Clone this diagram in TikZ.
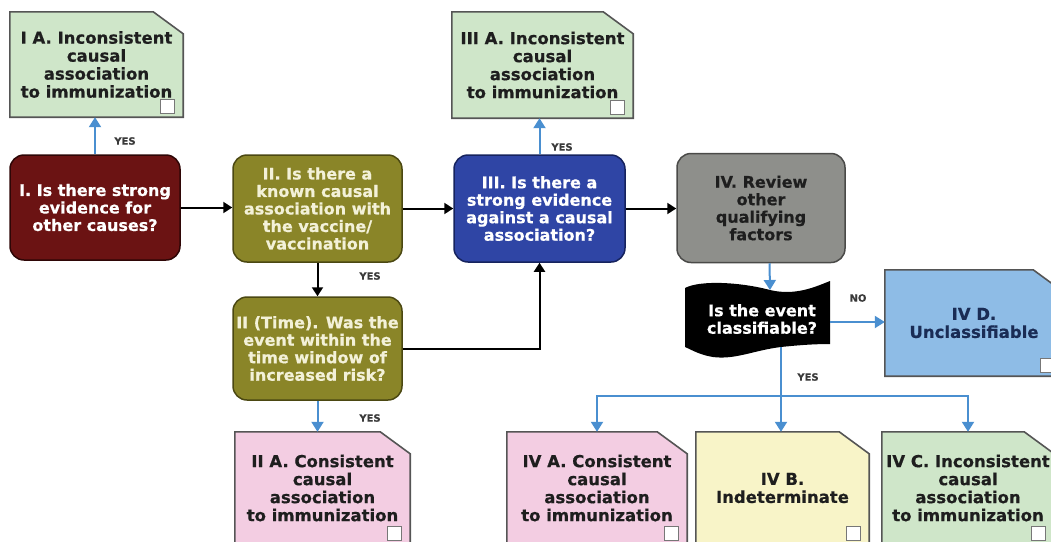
\documentclass[tikz,border=0pt]{standalone}
\usepackage{fontspec}
\setmainfont[BoldFeatures={FakeBold=0.6}]{DejaVu Sans}
\usetikzlibrary{arrows.meta,calc,backgrounds}

\definecolor{qred}{HTML}{6B1313}
\definecolor{qredline}{HTML}{2E0606}
\definecolor{qolive}{HTML}{8A8528}
\definecolor{qoliveline}{HTML}{4B4812}
\definecolor{qolivetext}{HTML}{F3F1D8}
\definecolor{qblue}{HTML}{2F45A5}
\definecolor{qblueline}{HTML}{16235E}
\definecolor{qgrey}{HTML}{8E8F8B}
\definecolor{qgreyline}{HTML}{4A4A48}
\definecolor{outgreen}{HTML}{CFE6C9}
\definecolor{outpink}{HTML}{F3CDE2}
\definecolor{outyellow}{HTML}{F8F4C8}
\definecolor{outblue}{HTML}{8EBCE6}
\definecolor{outline}{HTML}{555555}
\definecolor{darktext}{HTML}{1E1E1E}
\definecolor{navytext}{HTML}{1A2C55}
\definecolor{flowblue}{HTML}{4A8FD0}
\definecolor{labelgrey}{HTML}{3A3A3A}

\newcommand\qfont{\fontsize{16}{17.5}\selectfont\bfseries}
\newcommand\ofont{\fontsize{16.5}{18}\selectfont\bfseries}
\newcommand\lfont{\fontsize{10}{12}\selectfont\bfseries}

% outcome box: name, centre, width, height, fill, text colour, text
\newcommand\outcome[7]{%
  \node[outtext, text=#6, minimum width=#3pt, minimum height=#4pt] (#1) at #2 {#7};
  \begin{scope}[on background layer]
    \draw[outedge, fill=#5] (#1.south west) -- (#1.north west)
      -- ([xshift=-30pt]#1.north east) -- ([yshift=-22pt]#1.north east)
      -- (#1.south east) -- cycle;
  \end{scope}
  \draw[tickbox] ([xshift=-9pt,yshift=4pt]#1.south east) rectangle ++(-14pt,14pt);
}

\tikzset{
  question/.style={draw, line width=1.5pt, rounded corners=14pt, align=center,
    font=\qfont, inner sep=0pt},
  outtext/.style={align=center, font=\ofont, inner sep=0pt},
  outedge/.style={draw=outline, line width=1.6pt},
  tickbox/.style={draw=outline!80, fill=white, line width=0.9pt},
  blackflow/.style={line width=2pt, draw=black, -{Triangle[width=11pt,length=9pt]}},
  blueflow/.style={line width=2pt, draw=flowblue, -{Triangle[width=12pt,length=10pt]}},
  blueline/.style={line width=2pt, draw=flowblue, line cap=rect},
  answer/.style={font=\lfont, text=labelgrey, inner sep=0pt},
}

\begin{document}
\begin{tikzpicture}[x=1pt,y=-1pt]
\useasboundingbox (0,0) rectangle (1051,541);

% questions
\node[question, fill=qred, draw=qredline, text=white,
      minimum width=170pt, minimum height=105pt] (I) at (95,207.5)
  {I. Is there strong\\evidence for\\other causes?};
\node[question, fill=qolive, draw=qoliveline, text=qolivetext,
      minimum width=169pt, minimum height=107pt] (II) at (317.5,208.5)
  {II. Is there a\\known causal\\association with\\the vaccine/\\vaccination};
\node[question, fill=qolive, draw=qoliveline, text=qolivetext,
      minimum width=169pt, minimum height=103pt] (IIT) at (317.5,348.5)
  {II (Time). Was the\\event within the\\time window of\\increased risk?};
\node[question, fill=qblue, draw=qblueline, text=white,
      minimum width=171pt, minimum height=107pt] (III) at (539.5,208.5)
  {III. Is there a\\strong evidence\\against a causal\\association?};
\node[question, fill=qgrey, draw=qgreyline, text=darktext,
      minimum width=168pt, minimum height=109pt] (IV) at (761,208)
  {IV. Review\\other\\qualifying\\factors};

% wavy decision banner
\fill[black] (685,288) .. controls (700,280) and (740,282) .. (770,290)
  .. controls (795,296) and (815,287) .. (830,281)
  -- (830,344) .. controls (815,344) and (800,345) .. (781,347)
  .. controls (755,350) and (735,360) .. (713,357)
  .. controls (700,355) and (692,350) .. (685,347) -- cycle;
\node[font=\qfont, text=white, align=center, inner sep=0pt] (flag) at (762,319)
  {Is the event\\classifiable?};
\coordinate (flagtop) at (770,290);
\coordinate (flagright) at (830,322);
\coordinate (flagbottom) at (781,347);
\coordinate (split) at (781,396);

% outcomes
\outcome{IA}{(96.5,64.5)}{173}{105}{outgreen}{darktext}
  {I A. Inconsistent\\causal\\association\\to immunization}
\outcome{IIIA}{(542.5,65)}{181}{106}{outgreen}{darktext}
  {III A. Inconsistent\\causal\\association\\to immunization}
\outcome{IIA}{(322.5,488)}{175}{112}{outpink}{darktext}
  {II A. Consistent\\causal\\association\\to immunization}
\outcome{IVA}{(597,488)}{180}{112}{outpink}{darktext}
  {IV A. Consistent\\causal\\association\\to immunization}
\outcome{IVB}{(782.5,488)}{173}{112}{outyellow}{darktext}
  {IV B.\\Indeterminate}
\outcome{IVC}{(968,488)}{172}{112}{outgreen}{darktext}
  {IV C. Inconsistent\\causal\\association\\to immunization}
\outcome{IVD}{(974,323)}{178}{106}{outblue}{navytext}
  {IV D.\\Unclassifiable}

% main path
\draw[blackflow] (I.east) -- (I.east -| II.west);
\draw[blackflow] (II.east) -- (II.east -| III.west);
\draw[blackflow] (III.east) -- (III.east -| IV.west);
\draw[blackflow] (II.south) -- (IIT.north);
\draw[blackflow] (IIT.east) -| (III.south);

% answers leading to outcomes
\draw[blueflow] (I.north) -- (I.north |- IA.south);
\draw[blueflow] (III.north) -- (III.north |- IIIA.south);
\draw[blueflow] (IIT.south) -- (IIT.south |- IIA.north);
\draw[blueflow] ([xshift=8.5pt]IV.south) -- (flagtop);
\draw[blueflow] (flagright) -- (flagright -| IVD.west);
\draw[blueline] (split -| IVA.north) -- (split -| IVC.north);
\draw[blueflow] (flagbottom) -- (flagbottom |- IVB.north);
\draw[blueflow] (split -| IVA.north) -- (IVA.north);
\draw[blueflow] (split -| IVC.north) -- (IVC.north);

% answer labels
\node[answer] (yesI) at (125,141) {YES};
\node[answer] (yesII) at (370,276) {YES};
\node[answer] (yesIIT) at (370,418) {YES};
\node[answer] (yesIII) at (562,147) {YES};
\node[answer] (noflag) at (858,298) {NO};
\node[answer] (yesflag) at (808,377) {YES};
\end{tikzpicture}
\end{document}
